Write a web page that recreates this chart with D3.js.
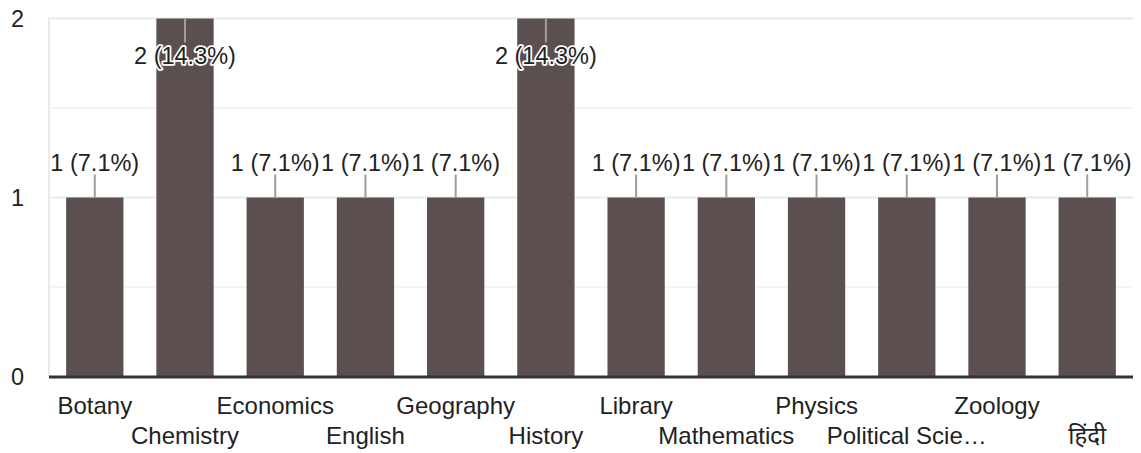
<!DOCTYPE html>
<html>
<head>
<meta charset="utf-8">
<script src="https://cdn.jsdelivr.net/npm/d3@7"></script>
<style>
  html, body { margin: 0; padding: 0; background: #fff; }
  svg { display: block; }
  text { font-family: Arial, "Liberation Sans", "Noto Sans", sans-serif; }
</style>
</head>
<body>
<svg id="chart" width="1141" height="453"></svg>
<script>
const categories = ["Botany", "Chemistry", "Economics", "English", "Geography", "History",
  "Library", "Mathematics", "Physics", "Political Science", "Zoology", "हिंदी"];
const tickLabels = ["Botany", "Chemistry", "Economics", "English", "Geography", "History",
  "Library", "Mathematics", "Physics", "Political Scie…", "Zoology", "हिंदी"];
const counts = [1, 2, 1, 1, 1, 2, 1, 1, 1, 1, 1, 1];
const percents = ["7.1%", "14.3%", "7.1%", "7.1%", "7.1%", "14.3%", "7.1%", "7.1%", "7.1%", "7.1%", "7.1%", "7.1%"];
const yTicks = [0, 1, 2];
const yMinorTicks = [0.5, 1.5];

(function () {
const svg = d3.select("#chart");
const pLeft = 49, pRight = 1133, pTop = 18.5, pBottom = 376.5;

const x = d3.scaleBand().domain(categories).range([pLeft, pRight]).paddingInner(0.365).paddingOuter(0.19);
const y = d3.scaleLinear().domain([0, 2]).range([pBottom, pTop]);

// gridlines
svg.append("g").selectAll("line").data(yMinorTicks).join("line")
  .attr("x1", pLeft).attr("x2", pRight)
  .attr("y1", d => y(d)).attr("y2", d => y(d))
  .attr("stroke", "#f4f4f4").attr("stroke-width", 2);
svg.append("g").selectAll("line").data(yTicks.filter(d => d !== 0)).join("line")
  .attr("x1", pLeft).attr("x2", pRight)
  .attr("y1", d => y(d)).attr("y2", d => y(d))
  .attr("stroke", "#ebebeb").attr("stroke-width", 2);
svg.append("line").attr("x1", pLeft).attr("x2", pLeft).attr("y1", pTop - 1).attr("y2", pBottom)
  .attr("stroke", "#ebebeb").attr("stroke-width", 2);

// y axis labels
const yAxis = d3.axisLeft(y).tickValues(yTicks).tickFormat(d3.format("d")).tickSize(0).tickPadding(0);
const yg = svg.append("g").attr("transform", "translate(24,0)").call(yAxis);
yg.select(".domain").remove();
yg.selectAll("text").attr("font-size", 23.5).attr("fill", "#222").attr("dy", "0.36em")
  .style("font-family", 'Arial, "Liberation Sans", sans-serif');

// bars
svg.append("g").selectAll("rect").data(categories).join("rect")
  .attr("x", d => x(d)).attr("width", x.bandwidth())
  .attr("y", (d, i) => y(counts[i])).attr("height", (d, i) => y(0) - y(counts[i]))
  .attr("fill", "#5b4f4f");

// baseline
svg.append("line").attr("x1", pLeft).attr("x2", pRight).attr("y1", y(0) + 0.5).attr("y2", y(0) + 0.5)
  .attr("stroke", "#333").attr("stroke-width", 3);

// x axis labels (staggered)
const xAxis = d3.axisBottom(x).tickFormat((d, i) => tickLabels[i]).tickSize(0).tickPadding(0);
const xg = svg.append("g").call(xAxis);
xg.select(".domain").remove();
xg.selectAll(".tick text")
  .attr("font-size", 24).attr("fill", "#222").attr("dy", null)
  .attr("y", (d, i) => i % 2 === 0 ? 414 : 444)
  .style("font-family", 'Arial, "Liberation Sans", "Noto Sans", sans-serif');

// value labels with leader lines
const lab = svg.append("g");
categories.forEach((c, i) => {
  const cx = x(c) + x.bandwidth() / 2;
  const yt = y(counts[i]);
  const above = yt - 50 > 0;
  const y1 = above ? yt - 23 : yt;
  const y2 = above ? yt : yt + 24;
  lab.append("line").attr("x1", cx).attr("x2", cx).attr("y1", y1).attr("y2", y2)
    .attr("stroke", "#9e9e9e").attr("stroke-width", 2);
  lab.append("text").attr("x", cx)
    .attr("y", above ? yt - 27 : yt + 45)
    .attr("text-anchor", "middle").attr("font-size", 23.5)
    .attr("fill", "#222").attr("stroke", "#fff").attr("stroke-width", 3.5)
    .attr("paint-order", "stroke").attr("stroke-linejoin", "round")
    .text(`${counts[i]} (${percents[i]})`);
});
})();
</script>
</body>
</html>
